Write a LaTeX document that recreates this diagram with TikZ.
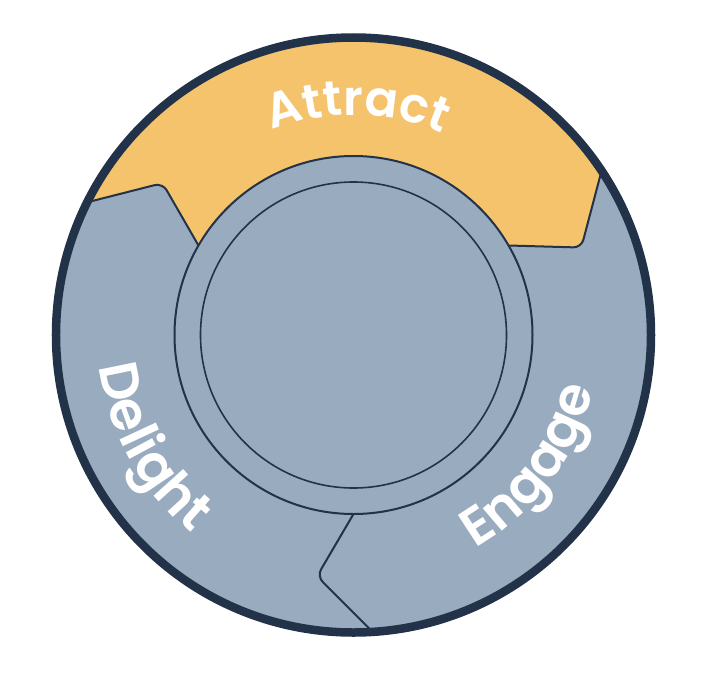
\documentclass[tikz,border=0pt]{standalone}
\usepackage{fontspec}
\newfontfamily\lblfont{Poppins}[UprightFont={* SemiBold}]
\usetikzlibrary{decorations.text}
\definecolor{navy}{RGB}{34,50,73}
\definecolor{gold}{RGB}{244,195,108}
\definecolor{slate}{RGB}{152,171,191}

\begin{document}
\begin{tikzpicture}[x=1pt,y=1pt,
  edge/.style={draw=navy,line width=2pt,rounded corners=8pt},
  lbl/.style 2 args={decorate,decoration={text along path,text align=center,
    text={|\lblfont\fontsize{#1}{#1}\selectfont\color{white}|#2}}}]
\useasboundingbox (-353.5,-362) rectangle (352.5,335);
\fill[slate] (0,0) circle (297.5);

\coordinate (a0) at (30:179);
\coordinate (a1) at (21:244);
\coordinate (a2) at (33.5:297.5);
\coordinate (b0) at (150:179);
\coordinate (b1) at (141.5:244);
\coordinate (b2) at (153.5:297.5);
\coordinate (c0) at (-90:179);
\coordinate (c1) at (-98.6:244);
\coordinate (c2) at (-86.3:297.5);

% attract band
\fill[gold] (b2) arc[start angle=153.5,end angle=33.5,radius=297.5]
  [rounded corners=8pt] -- (a1) [sharp corners] -- (a0)
  arc[start angle=30,end angle=150,radius=179]
  [rounded corners=8pt] -- (b1) [sharp corners] -- cycle;

\draw[edge] (a0)--(a1)--(a2);
\draw[edge] (b0)--(b1)--(b2);
\draw[edge] (c0)--(c1)--(c2);

% hub
\filldraw[fill=slate,draw=navy,line width=2pt] (0,0) circle (179);
\draw[navy,line width=1.6pt] (0,0) circle (153);
\draw[navy,line width=8.5pt] (0,0) circle (297.5);

\path[lbl={49}{Attract}] (131:220) arc[start angle=131,end angle=47,radius=220];
\path[lbl={54}{Delight}] (169:256) arc[start angle=169,end angle=249,radius=256];
\path[lbl={53}{Engage}] (-77:246) arc[start angle=-77,end angle=4,radius=246];
\end{tikzpicture}
\end{document}
